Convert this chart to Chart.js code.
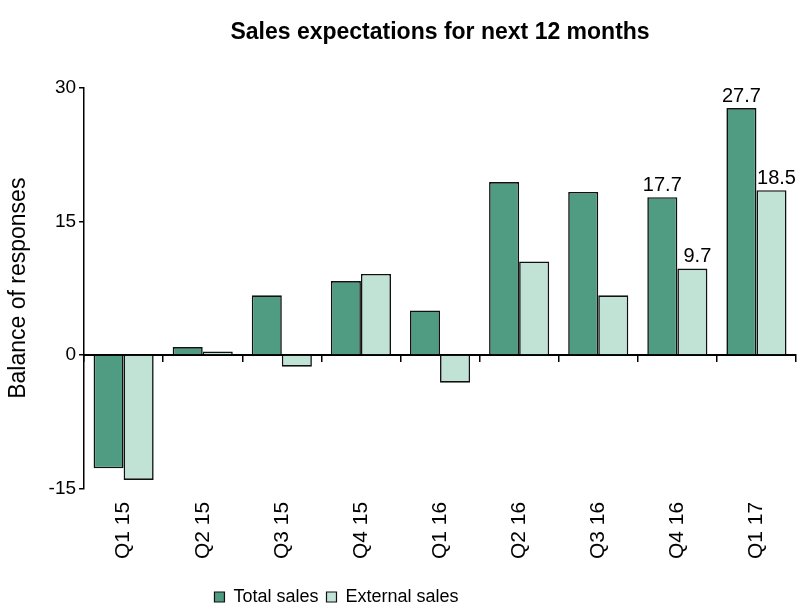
<!DOCTYPE html>
<html>
<head>
<meta charset="utf-8">
<script src="https://cdn.jsdelivr.net/npm/chart.js@4.4.0/dist/chart.umd.min.js"></script>
<style>
  html, body { margin: 0; padding: 0; background: #fff; }
  #wrap { width: 812px; height: 608px; }
</style>
</head>
<body>
<div id="wrap"><canvas id="chart"></canvas></div>
<script>
// Quarter labels along the bottom.
const quarters = ['Q1 15', 'Q2 15', 'Q3 15', 'Q4 15', 'Q1 16', 'Q2 16', 'Q3 16', 'Q4 16', 'Q1 17'];

// Balance of responses.
const totalSales = [-12.7, 0.9, 6.7, 8.3, 5.0, 19.4, 18.3, 17.7, 27.7];
const externalSales = [-14.0, 0.4, -1.3, 9.1, -3.1, 10.5, 6.7, 9.7, 18.5];

// Y axis ticks.
const yTicks = [-15, 0, 15, 30];

// Only the last two quarters carry value labels.
const labelFromIndex = 7;

const darkGreen = '#4f9c82';
const lightGreen = '#c1e3d6';

Chart.defaults.font.family = '"Liberation Sans", Arial, sans-serif';
Chart.defaults.color = '#000';

// Writes the values above the bars of the last quarters.
const valueLabels = {
    id: 'valueLabels',
    afterDatasetsDraw(chart) {
        const ctx = chart.ctx;
        ctx.save();
        ctx.font = '20px "Liberation Sans", Arial, sans-serif';
        ctx.fillStyle = '#000';
        ctx.textAlign = 'center';
        ctx.textBaseline = 'bottom';
        chart.data.datasets.forEach((ds, di) => {
            const meta = chart.getDatasetMeta(di);
            meta.data.forEach((bar, i) => {
                if (i < labelFromIndex) return;
                ctx.fillText(ds.data[i].toFixed(1), bar.x + di * 5, bar.y - 2);
            });
        });
        ctx.restore();
    }
};

// Moves the legend left and a little lower, as in the original.
const legendShift = {
    id: 'legendShift',
    afterLayout(chart) {
        const lg = chart.legend;
        lg.right -= 124;
        lg.top += 8;
        lg.bottom += 8;
    }
};

new Chart(document.getElementById('chart'), {
    type: 'bar',
    data: {
        labels: quarters,
        datasets: [
            {
                label: 'Total sales',
                data: totalSales,
                backgroundColor: darkGreen,
                borderColor: '#111',
                borderWidth: 1.6
            },
            {
                label: 'External sales',
                data: externalSales,
                backgroundColor: lightGreen,
                borderColor: '#111',
                borderWidth: 1.6
            }
        ]
    },
    options: {
        responsive: true,
        maintainAspectRatio: false,
        animation: false,
        datasets: {
            bar: { barPercentage: 1, categoryPercentage: 0.76 }
        },
        layout: { padding: { left: 1, right: 16, bottom: 0 } },
        scales: {
            x: {
                position: 'bottom',
                offset: true,
                grid: { display: false, drawTicks: false },
                border: { display: false },
                ticks: {
                    minRotation: 90,
                    maxRotation: 90,
                    padding: 13,
                    font: { size: 21 }
                }
            },
            xZero: {
                type: 'category',
                labels: quarters,
                position: { y: 0 },
                offset: true,
                grid: {
                    offset: true,
                    drawOnChartArea: false,
                    drawTicks: true,
                    tickLength: 6,
                    color: '#000',
                    lineWidth: 1.5
                },
                border: { display: true, color: '#000', width: 2 },
                ticks: { display: false }
            },
            y: {
                min: -15,
                max: 30,
                afterBuildTicks(axis) {
                    axis.ticks = yTicks.map(v => ({ value: v }));
                },
                grid: {
                    drawOnChartArea: false,
                    drawTicks: true,
                    tickLength: 5,
                    color: '#000',
                    lineWidth: 1.5
                },
                border: { display: true, color: '#000', width: 1.5 },
                ticks: { font: { size: 19 }, padding: 3 },
                title: {
                    display: true,
                    text: 'Balance of responses',
                    font: { size: 23 },
                    padding: { top: 4, bottom: 13 }
                }
            }
        },
        plugins: {
            title: {
                display: true,
                text: 'Sales expectations for next 12 months',
                fullSize: false,
                font: { size: 23, weight: 'bold' },
                padding: { top: 19, bottom: 41 }
            },
            legend: {
                position: 'bottom',
                labels: {
                    boxWidth: 10,
                    boxHeight: 10,
                    padding: 8,
                    font: { size: 18 },
                    generateLabels(chart) {
                        return chart.data.datasets.map((ds, i) => ({
                            text: ds.label,
                            fillStyle: ds.backgroundColor,
                            strokeStyle: '#111',
                            lineWidth: 1.2,
                            datasetIndex: i
                        }));
                    }
                }
            },
            tooltip: { enabled: false }
        }
    },
    plugins: [valueLabels, legendShift]
});
</script>
</body>
</html>
